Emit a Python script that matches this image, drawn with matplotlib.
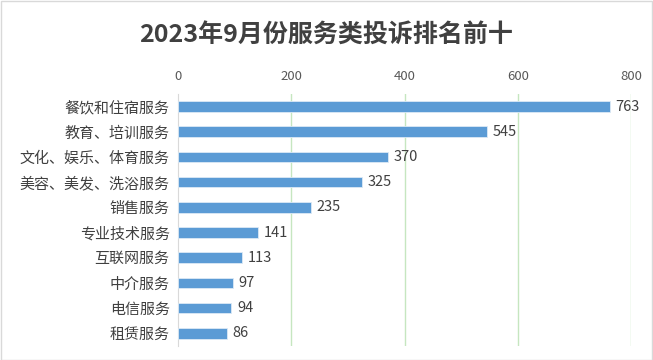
import matplotlib.pyplot as plt
from matplotlib.patches import Rectangle

plt.rcParams['font.family'] = ['Noto Sans CJK SC', 'DejaVu Sans']

categories = ['餐饮和住宿服务', '教育、培训服务', '文化、娱乐、体育服务', '美容、美发、洗浴服务',
              '销售服务', '专业技术服务', '互联网服务', '中介服务', '电信服务', '租赁服务']
counts = [763, 545, 370, 325, 235, 141, 113, 97, 94, 86]
xticks = [0, 200, 400, 600, 800]

fig = plt.figure(figsize=(6.53, 3.6), dpi=100)
ax = fig.add_axes([0.2726, 0.039, 0.6937, 0.70])

y = list(range(len(categories)))
ax.barh(y, counts, height=0.42, color='#5B9BD5', edgecolor='#DCE9F5', linewidth=0.6, zorder=3)
for yi, v in zip(y, counts):
    ax.text(v + 10, yi, str(v), va='center', ha='left', fontsize=10.5, color='#404040', zorder=4)

ax.set_xlim(0, 800)
ax.set_ylim(len(categories) - 0.5, -0.5)
ax.set_yticks(y)
ax.set_yticklabels(categories, fontsize=10.8, color='#404040')
ax.set_xticks(xticks)
ax.set_xticklabels([str(t) for t in xticks], fontsize=9.5, color='#595959')
ax.xaxis.tick_top()
ax.tick_params(axis='both', length=0)
ax.tick_params(axis='x', pad=8)
ax.tick_params(axis='y', pad=6)
for s in ['top', 'right', 'bottom']:
    ax.spines[s].set_visible(False)
ax.spines['left'].set_color('#D9D9D9')
ax.grid(axis='x', color='#C6E6C0', linewidth=1, zorder=0)
ax.set_axisbelow(True)
# hide the 0 gridline under the spine
ax.get_xgridlines()[0].set_visible(False)

fig.text(0.5, 0.9, '2023年9月份服务类投诉排名前十', ha='center', va='center',
         fontsize=18, fontweight='bold', color='#404040')

fig.patches.append(Rectangle((0.001, 0.001), 0.997, 0.997, transform=fig.transFigure,
                             fill=False, edgecolor='#D9D9D9', linewidth=1))

fig.savefig('out.png', dpi=100)
